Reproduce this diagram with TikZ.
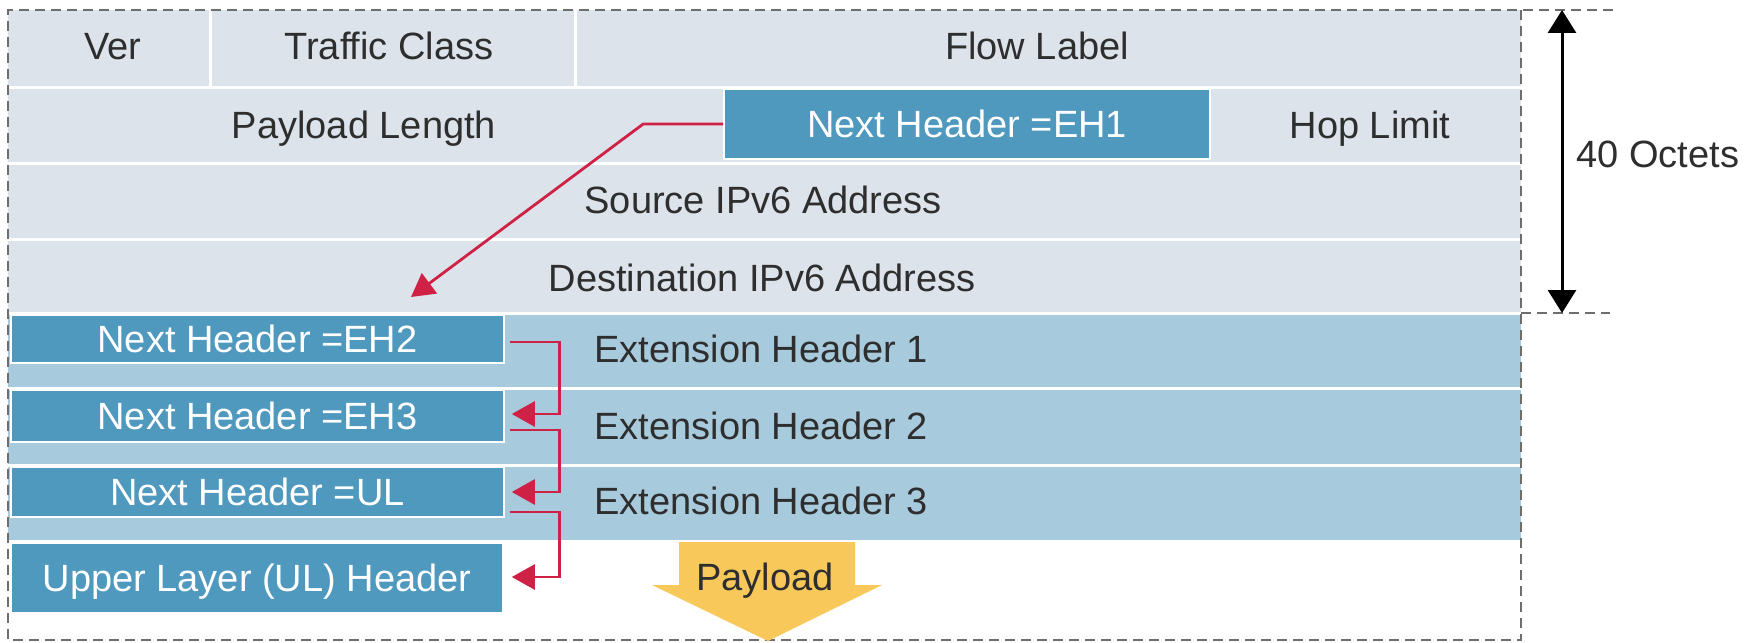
\documentclass[tikz,border=0pt]{standalone}
\usepackage{fontspec}
\setmainfont{Liberation Sans}
\usetikzlibrary{arrows.meta,calc}

\definecolor{rowgrey}{HTML}{DCE3EA}
\definecolor{exthdr}{HTML}{A7CADC}
\definecolor{nhblue}{HTML}{4F98BE}
\definecolor{linkred}{HTML}{CF2146}
\definecolor{payloadyellow}{HTML}{F8C85A}
\definecolor{txt}{HTML}{2E2E2E}
\definecolor{framegrey}{HTML}{6E6E6E}

\begin{document}
\begin{tikzpicture}[x=0.5pt,y=-0.5pt,
  every node/.style={font=\fontsize{19}{22}\selectfont, text=txt, inner sep=0pt,
                     text height=13.6pt, text depth=0pt},
  nh/.style={fill=nhblue, draw=white, line width=0.8pt, text=white},
  link/.style={draw=linkred, line width=1.4pt, -{Triangle[length=11.5pt,width=12.5pt]}},
  frameline/.style={draw=framegrey, line width=1.3pt, dash pattern=on 5pt off 3pt},
  sep/.style={draw=white, line width=1.5pt},
]
\useasboundingbox (0,0) rectangle (1754,642);

% fixed IPv6 header (40 octets) and extension headers
\fill[rowgrey] (8,10) rectangle (1521,313);
\fill[exthdr] (8,313) rectangle (1521,540);
\draw[sep] (8,87.5) -- (1521,87.5) (8,163.5) -- (1521,163.5) (8,239.5) -- (1521,239.5)
           (8,313) -- (1521,313) (8,388.5) -- (1521,388.5) (8,465.5) -- (1521,465.5)
           (210,10) -- (210,86) (575,10) -- (575,86);

% outer dashed frame
\draw[frameline] (1613,10) -- (8,10) -- (8,640) -- (1521,640) -- (1521,10);
\draw[frameline] (1521,313) -- (1610,313);

% payload arrow
\fill[payloadyellow] (679,542) -- (855,542) -- (855,585) -- (882,585) -- (768,641)
                     -- (652,585) -- (679,585) -- cycle;
\node (payload) at (765,577) {Payload};

% header fields
\node (ver) at (113,46) {Ver};
\node (tclass) at (389,46) {Traffic Class};
\node (flow) at (1037,46) {Flow Label};
\node (plen) at (364,125) {Payload Length};
\node[nh, minimum width=243pt, minimum height=35pt] (eh1) at (967,124) {Next Header =EH1};
\node (hop) at (1370,125) {Hop Limit};
\node (src) at (763,200) {Source IPv6 Address};
\node (dst) at (762,278) {Destination IPv6 Address};

% extension headers
\node[nh, minimum width=246.5pt, minimum height=24pt] (eh2) at (257.5,339) {Next Header =EH2};
\node[nh, minimum width=246.5pt, minimum height=26pt] (eh3) at (257.5,416) {Next Header =EH3};
\node[nh, minimum width=246.5pt, minimum height=25pt] (ul) at (257.5,492) {Next Header =UL};
\node[nh, minimum width=246pt, minimum height=35pt] (upper) at (257,578) {Upper Layer (UL) Header};
\node[anchor=west] (ext1) at (594,349) {Extension Header 1};
\node[anchor=west] (ext2) at (594,426) {Extension Header 2};
\node[anchor=west] (ext3) at (594,501) {Extension Header 3};

% header chain
\coordinate (chainin) at (411,297);
\draw[link] (eh1.west) -- ++(-80,0) -- (chainin);
\draw[link] ($(eh2.east)+(5,3)$) -- ++(50,0) |- ($(eh3.east)+(7,-2)$);
\draw[link] ($(eh3.east)+(5,14)$) -- ++(50,0) |- ($(ul.east)+(7,0)$);
\draw[link] ($(ul.east)+(5,20)$) -- ++(50,0) |- ($(upper.east)+(8,-1)$);

% 40 octet span
\coordinate (spantop) at (1562,10);
\coordinate (spanbot) at (1562,313);
\draw[line width=1.5pt, {Triangle[length=11.5pt,width=14pt]}-{Triangle[length=11.5pt,width=14pt]}]
  (spantop) -- (spanbot);
\node[anchor=west] (octets) at (1576,154) {40 Octets};
\end{tikzpicture}
\end{document}
